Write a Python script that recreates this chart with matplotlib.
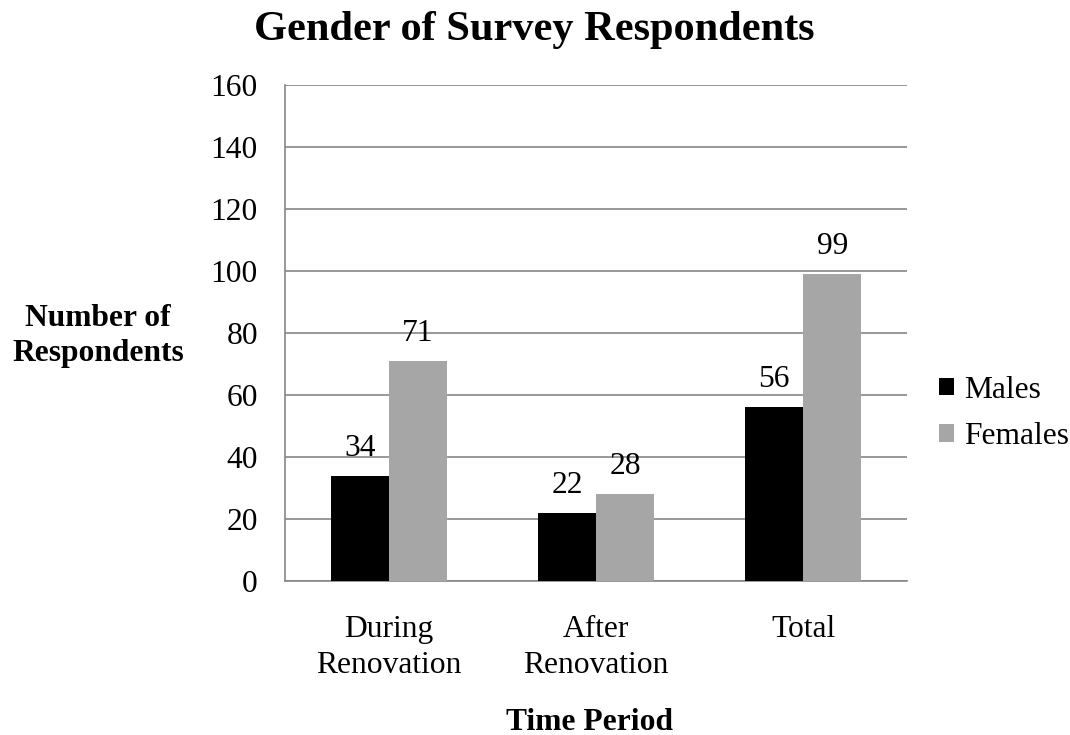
import numpy as np
from matplotlib import pyplot as plt

plt.rcParams['font.family'] = 'Liberation Serif'

periods = ["During\nRenovation", "After\nRenovation", "Total"]
males = [34, 22, 56]
females = [71, 28, 99]
yticks = [0, 20, 40, 60, 80, 100, 120, 140, 160]

fig = plt.figure(figsize=(10.7, 7.35), dpi=100)
ax = fig.add_axes([285 / 1070, 1 - 581 / 735, 622 / 1070, (581 - 85) / 735])

x = np.arange(len(periods))
w = 0.28
b1 = ax.bar(x - w / 2, males, w, color='black', label='Males', zorder=3)
b2 = ax.bar(x + w / 2, females, w, color='#a6a6a6', label='Females', zorder=3)

for bars, vals in ((b1, males), (b2, females)):
    for r, v in zip(bars, vals):
        ax.annotate(str(v), (r.get_x() + r.get_width() / 2, v),
                    xytext=(0, 14.4), textcoords='offset points',
                    ha='center', va='baseline', fontsize=22.7)

ax.set_xlim(-0.5, 2.5)
ax.set_ylim(0, 160)
ax.set_yticks(yticks)
ax.set_xticks(x)
ax.set_xticklabels(periods, fontsize=22.7, linespacing=1.33)
ax.tick_params(axis='y', labelsize=22.7, length=0, pad=19.5)
ax.tick_params(axis='x', length=0, pad=24.5)
ax.yaxis.grid(True, color='#868686', linewidth=1.2, zorder=0)
ax.set_axisbelow(True)
for s in ['top', 'right']:
    ax.spines[s].set_visible(False)
for s in ['left', 'bottom']:
    ax.spines[s].set_color('#868686')
    ax.spines[s].set_linewidth(1.2)

fig.text(534 / 1070, 1 - 40 / 735, "Gender of Survey Respondents",
         ha='center', va='baseline', fontsize=30.5, fontweight='bold')
fig.text(98 / 1070, 1 - 336 / 735, "Number of\nRespondents",
         ha='center', va='center', fontsize=22.7, fontweight='bold', linespacing=1.3)
fig.text(590 / 1070, 1 - 730 / 735, "Time Period",
         ha='center', va='baseline', fontsize=22.7, fontweight='bold')

ax.legend(loc='center left', bbox_to_anchor=(1.0, 0.338), frameon=False,
          fontsize=22.7, handlelength=0.5, handleheight=0.5, handletextpad=0.3,
          labelspacing=0.55, borderaxespad=0.6)

plt.savefig('out.png', dpi=100)
